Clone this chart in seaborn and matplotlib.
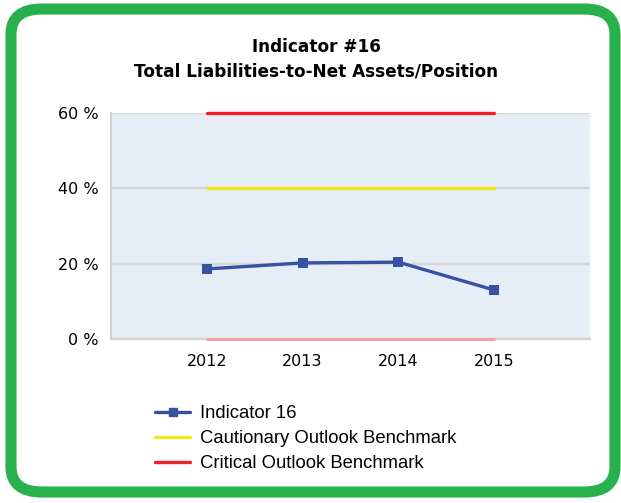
import matplotlib
matplotlib.use("Agg")
import matplotlib.pyplot as plt
import seaborn as sns
import pandas as pd
from matplotlib.patches import FancyBboxPatch
from matplotlib.lines import Line2D

# %% data
years = [2012, 2013, 2014, 2015]
indicator = [18.6, 20.2, 20.4, 13.0]
cautionary = [40, 40, 40, 40]
critical = [60, 60, 60, 60]
floor_line = [0, 0, 0, 0]
y_ticks = [0, 20, 40, 60]
x_labels = ["", "2012", "2013", "2014", "2015", ""]

df = pd.DataFrame({"Year": years, "Indicator 16": indicator,
                   "Cautionary Outlook Benchmark": cautionary,
                   "Critical Outlook Benchmark": critical,
                   "Floor": floor_line})

sns.set_style("white")
plt.rcParams["font.family"] = ["DejaVu Sans"]

fig = plt.figure(figsize=(6.21, 5.03), dpi=100)
ax = fig.add_axes([111 / 621, 1 - 339 / 503, (590 - 111) / 621, (339 - 113) / 503])
ax.set_facecolor("#e5edf7")

# green rounded frame
frame = FancyBboxPatch((11 / 621, 11 / 503), (615 - 11) / 621, (494 - 11) / 503,
                       boxstyle="round,pad=0,rounding_size=0.05",
                       transform=fig.transFigure, facecolor="none",
                       edgecolor="#27b04b", linewidth=8, zorder=10)
fig.patches.append(frame)

sns.lineplot(data=df, x="Year", y="Floor", ax=ax, color="#f2a3a3", linewidth=2.2,
             clip_on=False, zorder=4)
sns.lineplot(data=df, x="Year", y="Cautionary Outlook Benchmark", ax=ax,
             color="#f2e71c", linewidth=2.4, zorder=4)
sns.lineplot(data=df, x="Year", y="Critical Outlook Benchmark", ax=ax,
             color="#ed2127", linewidth=2.4, clip_on=False, zorder=4)
sns.lineplot(data=df, x="Year", y="Indicator 16", ax=ax, color="#3751a3",
             linewidth=2.4, marker="s", markersize=7, markeredgewidth=0,
             clip_on=False, zorder=5)

ax.set_xlim(2011, 2016)
ax.set_ylim(0, 60)
ax.set_yticks(y_ticks)
ax.set_yticklabels([f"{v} %" for v in y_ticks], fontsize=11.5)
ax.set_xticks(range(2011, 2017))
ax.set_xticklabels(x_labels, fontsize=11.5)
ax.set_xlabel("")
ax.set_ylabel("")
ax.grid(axis="y", color="#d6d6d6", linewidth=1.7)
ax.set_axisbelow(True)
for s in ["top", "right"]:
    ax.spines[s].set_visible(False)
for s in ["left", "bottom"]:
    ax.spines[s].set_color("#d0d0d0")
    ax.spines[s].set_linewidth(1.5)
ax.tick_params(axis="both", direction="out", length=5, width=1.2, color="#c8c8c8",
               labelcolor="black", pad=4)
ax.tick_params(axis="x", pad=6)

fig.text(0.509, 1 - 47 / 503, "Indicator #16", ha="center", va="center",
         fontsize=12.2, fontweight="bold", color="black")
fig.text(0.509, 1 - 71 / 503, "Total Liabilities-to-Net Assets/Position",
         ha="center", va="center", fontsize=12.2, fontweight="bold", color="black")

handles = [
    Line2D([], [], color="#3751a3", linewidth=2.4, marker="s", markersize=6),
    Line2D([], [], color="#f2e71c", linewidth=2.4),
    Line2D([], [], color="#ed2127", linewidth=2.4),
]
labels = ["Indicator 16", "Cautionary Outlook Benchmark", "Critical Outlook Benchmark"]
leg = fig.legend(handles, labels, loc="upper left",
                 bbox_to_anchor=(146 / 621, 1 - 396 / 503),
                 frameon=False, prop={"family": "Liberation Sans", "size": 13.3},
                 handlelength=1.9, handletextpad=0.55, labelspacing=0.43, borderpad=0)
for t in leg.get_texts():
    t.set_color("black")

fig.savefig("out.png", dpi=100)
